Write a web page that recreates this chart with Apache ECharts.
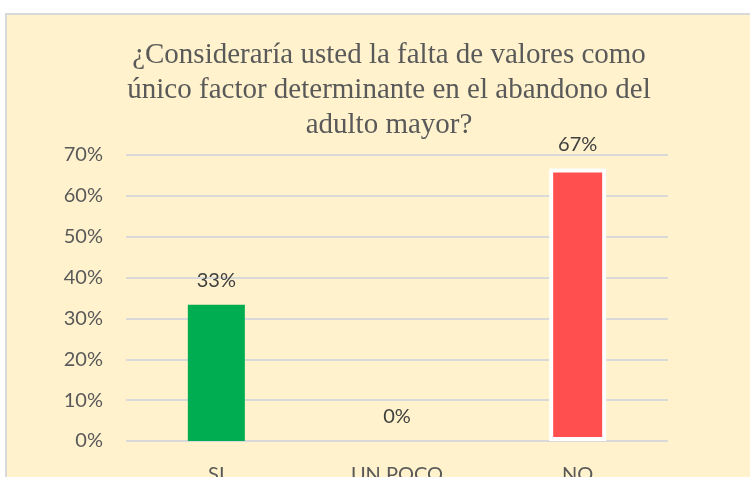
<!DOCTYPE html>
<html><head><meta charset="utf-8">
<script src="https://cdn.jsdelivr.net/npm/echarts@6/dist/echarts.min.js"></script>
<style>html,body{margin:0;padding:0;background:#fff;}#c{width:750px;height:477px;}</style>
</head><body><div id="c"></div>
<script>
const titleText = "¿Consideraría usted la falta de valores como\núnico factor determinante en el abandono del\nadulto mayor?";
const categories = ["SI", "UN POCO", "NO"];
const values = [33.33, 0, 66.67];
const labels = ["33%", "0%", "67%"];
const barColors = ["#00AD50", "#FFF2CC", "#FF4F4F"];
const yTicks = [0, 10, 20, 30, 40, 50, 60, 70];

const chart = echarts.init(document.getElementById('c'));
chart.setOption({
  animation: false,
  graphic: [{
    type: 'rect', z: -10, silent: true,
    shape: {x: 6, y: 14, width: 800, height: 520},
    style: {fill: '#FFF2CC', stroke: '#D9D9D9', lineWidth: 2}
  }],
  title: {
    text: titleText, left: 384, top: 33, textAlign: 'center',
    textStyle: {fontFamily: 'Liberation Serif', fontSize: 29, fontWeight: 'normal', color: '#595959', lineHeight: 35}
  },
  grid: {left: 126, right: 82, top: 155, bottom: 36, outerBoundsMode: 'none', containLabel: false},
  xAxis: {
    type: 'category', data: categories,
    axisLine: {show: false}, axisTick: {show: false},
    axisLabel: {fontFamily: 'Lato', fontSize: 20, color: '#595959', margin: 24}
  },
  yAxis: {
    type: 'value', min: 0, max: 70, interval: 10,
    axisLabel: {formatter: v => yTicks.includes(v) ? v + '%' : '', fontFamily: 'Lato', fontSize: 20, color: '#595959', margin: 23},
    splitLine: {lineStyle: {color: '#D9D9D9', width: 2}},
    axisLine: {show: false}, axisTick: {show: false}
  },
  series: [{
    type: 'bar', barWidth: 57,
    data: values.map((v, i) => ({
      value: v,
      itemStyle: i === 2 ? {color: barColors[i], borderColor: '#FFFFFF', borderWidth: 4} : {color: barColors[i]}
    })),
    label: {
      show: true, position: 'top', distance: 14,
      formatter: p => labels[p.dataIndex],
      fontFamily: 'Lato', fontSize: 20, color: '#404040'
    }
  }]
});
</script></body></html>
